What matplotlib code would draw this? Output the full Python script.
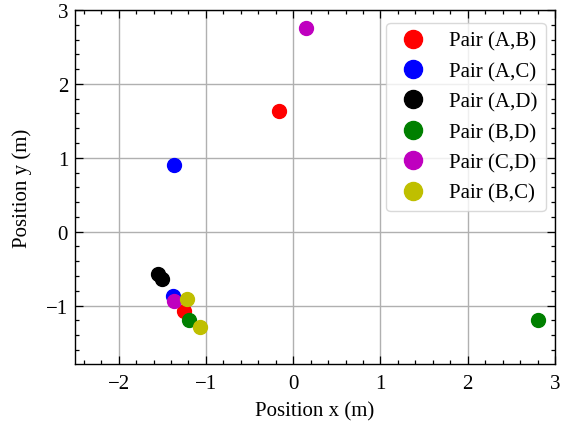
import matplotlib
matplotlib.use("Agg")
import matplotlib.pyplot as plt
from matplotlib.ticker import AutoMinorLocator

# pair labels, colours and the two positions of each pair
pairs = ["Pair (A,B)", "Pair (A,C)", "Pair (A,D)", "Pair (B,D)", "Pair (C,D)", "Pair (B,C)"]
colors = ["r", "b", "k", "g", "m", "y"]
x_pos = [
    [-0.16, -1.25],
    [-1.37, -1.38],
    [-1.55, -1.50],
    [-1.19, 2.80],
    [0.15, -1.37],
    [-1.22, -1.07],
]
y_pos = [
    [1.63, -1.07],
    [0.90, -0.87],
    [-0.57, -0.64],
    [-1.19, -1.19],
    [2.75, -0.94],
    [-0.91, -1.29],
]

plt.rcParams["font.family"] = ["Liberation Serif", "DejaVu Serif"]
plt.rcParams["mathtext.fontset"] = "stix"
plt.rcParams["font.size"] = 15

fig = plt.figure(figsize=(5.61, 4.31), dpi=100)
ax = fig.add_axes([0.1337, 0.1531, 0.9893 - 0.1337, 0.9745 - 0.1531])

for label, c, xs, ys in zip(pairs, colors, x_pos, y_pos):
    ax.plot(xs, ys, "o", color=c, markersize=10, label=label)

ax.set_xlim(-2.5, 3)
ax.set_ylim(-1.79, 3)
ax.set_xlabel("Position x (m)", labelpad=6)
ax.set_ylabel("Position y (m)", labelpad=10)

ax.xaxis.set_minor_locator(AutoMinorLocator(5))
ax.yaxis.set_minor_locator(AutoMinorLocator(5))
ax.tick_params(which="both", direction="in", top=True, right=True, width=0.9)
ax.tick_params(which="major", length=6)
ax.tick_params(which="minor", length=3)
ax.tick_params(axis="x", which="major", pad=7)
ax.tick_params(axis="y", which="major", pad=5)
for s in ax.spines.values():
    s.set_linewidth(1.0)
ax.grid(True, color="#b0b0b0", linewidth=1.0)
ax.set_axisbelow(True)

ax.legend(loc="upper right", bbox_to_anchor=(1.0, 0.99), markerscale=1.3,
          fontsize=15, framealpha=0.8, edgecolor="#d0d0d0", fancybox=True,
          handletextpad=0.8, handlelength=1.8, borderaxespad=0.45,
          labelspacing=0.52)

fig.savefig("out.png", dpi=100)
